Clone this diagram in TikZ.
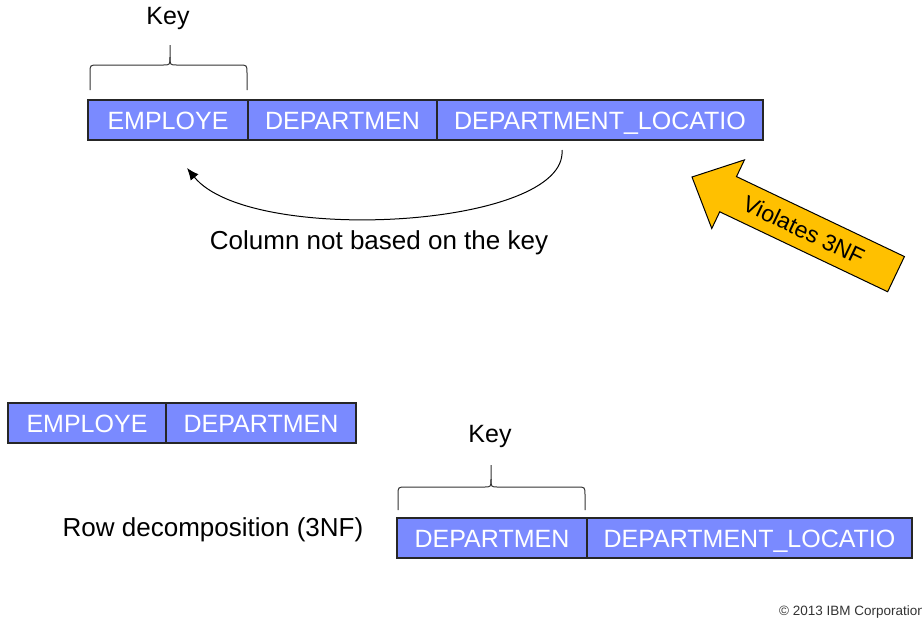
\documentclass[tikz,border=0pt]{standalone}
\usepackage{fontspec}
\setmainfont{Liberation Sans}
\usetikzlibrary{arrows.meta,calc}
\definecolor{cellblue}{RGB}{122,138,255}
\definecolor{warnorange}{RGB}{255,192,0}
\tikzset{
  cell/.style={draw=black!85, line width=1.1pt, fill=cellblue, text=white,
    minimum height=40pt, inner sep=0pt, text height=18pt, text depth=0pt,
    font=\fontsize{25}{30}\selectfont},
  label/.style={inner sep=0pt, font=\fontsize{26}{31}\selectfont},
  brace/.style={draw=black!80, line width=1pt},
}
\begin{document}
\begin{tikzpicture}[x=1pt, y=-1pt]
  \useasboundingbox (0,0) rectangle (922,630);

  % original table
  \node[cell, minimum width=160pt] (e1) at (168,120) {EMPLOYE};
  \node[cell, minimum width=189pt] (d1) at (342.5,120) {DEPARTMEN};
  \node[cell, minimum width=326pt] (l1) at (600,120) {DEPARTMENT\_LOCATIO};

  % key brace over the first column
  \node[label, font=\fontsize{25}{30}\selectfont] (k1) at (168,18) {Key};
  \draw[brace] (90,90) -- (90,73) .. controls (90,65) .. (98,65) -- (163,65)
    .. controls (170,65) .. (170,57) -- (170,45);
  \draw[brace] (247,90) -- (247,73) .. controls (247,65) .. (239,65) -- (177,65)
    .. controls (170,65) .. (170,57);

  % dependency arrow under the table
  \coordinate (cs) at (562,150);
  \coordinate (ce) at (187,168);
  \draw[line width=1pt, -{Latex[length=12pt,width=10pt]}]
    (cs) .. controls (568,228) and (250,246) .. (ce);
  \node[label] (col) at (379,243) {Column not based on the key};

  % warning arrow
  \begin{scope}[shift={(692,177)}, rotate=-25.46]
    \draw[fill=warnorange, draw=black, line width=1pt]
      (0,0) -- (40,-38) -- (40,-19.5) -- (226,-19.5) -- (226,19.5)
      -- (40,19.5) -- (40,38) -- cycle;
    \node[inner sep=0pt, font=\fontsize{23}{27}\selectfont, rotate=-25.46] (v)
      at (124,0) {Violates 3NF};
  \end{scope}

  % decomposed tables
  \node[cell, minimum width=158pt] (e2) at (87,423) {EMPLOYE};
  \node[cell, minimum width=190pt] (d2) at (261,423) {DEPARTMEN};

  \node[cell, minimum width=190pt] (d3) at (492,538) {DEPARTMEN};
  \node[cell, minimum width=325pt] (l3) at (749.5,538) {DEPARTMENT\_LOCATIO};

  \node[label, font=\fontsize{25}{30}\selectfont] (k2) at (490,436) {Key};
  \draw[brace] (398,510) -- (398,495) .. controls (398,487) .. (406,487) -- (484,487)
    .. controls (491,487) .. (491,479) -- (491,465);
  \draw[brace] (585,510) -- (585,495) .. controls (585,487) .. (577,487) -- (498,487)
    .. controls (491,487) .. (491,479);

  \node[label] (row) at (213,530) {Row decomposition (3NF)};

  % footer, running past the right edge
  \begin{scope}
    \clip (0,0) rectangle (922,630);
    \node[anchor=west, inner sep=0pt, text=black!80, font=\fontsize{13.5}{16}\selectfont]
      (copy) at (779,612) {© 2013 IBM Corporation};
  \end{scope}
\end{tikzpicture}
\end{document}
